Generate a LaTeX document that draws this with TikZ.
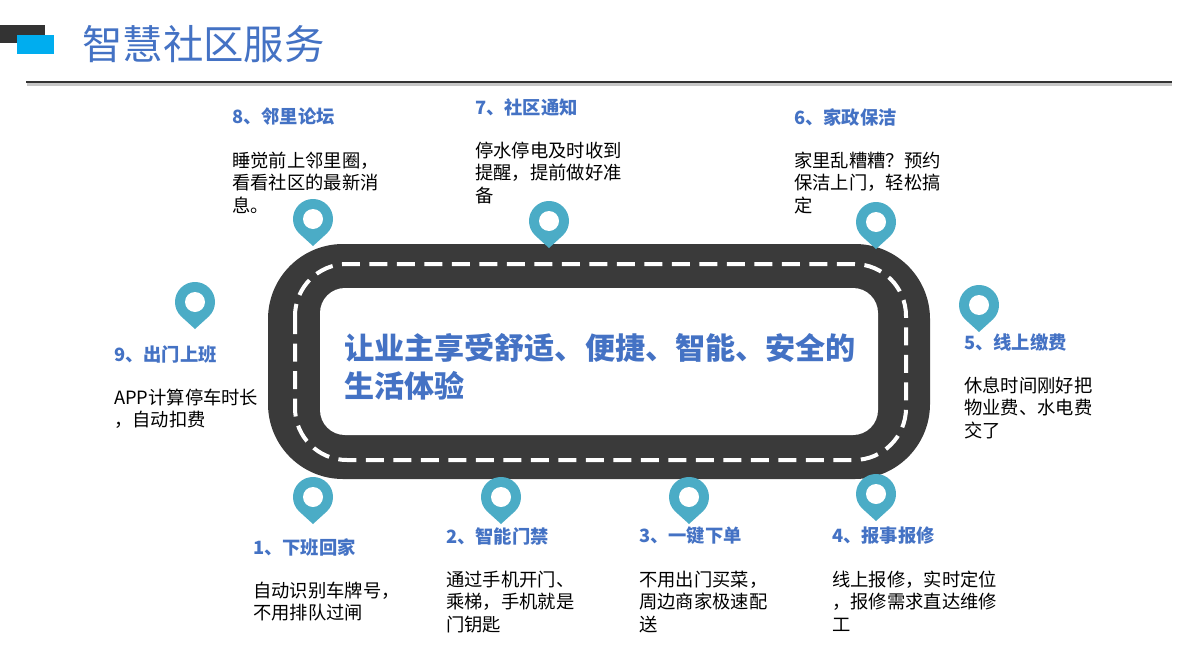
\documentclass[tikz,border=0pt]{standalone}
\usepackage{fontspec}
\setmainfont{Noto Sans CJK SC}
\usetikzlibrary{calc}
\definecolor{road}{HTML}{3A3A3A}
\definecolor{pinc}{HTML}{4BACC6}
\definecolor{bluet}{HTML}{4472C4}
\definecolor{barblue}{HTML}{00ADEF}
\definecolor{bardark}{HTML}{333333}
\tikzset{
  px/.style={x=1pt,y=-1pt},
  head/.style={anchor=west,inner sep=0pt,text=bluet,font=\fontsize{18.3}{22}\selectfont\bfseries},
  body/.style={anchor=north west,inner sep=0pt,align=left,text=black,font=\fontsize{18.3}{22.5}\selectfont},
  pinshape/.style={fill=pinc,draw=none},
  pinhole/.style={fill=white,draw=none}
}
\newcommand{\mypin}[3]{% name, x, y of circle centre
  \coordinate (#1) at (#2,#3);
  \fill[pinshape] ($(#1)+(-14.14,14.14)$) arc[start angle=135,end angle=405,radius=20] -- ($(#1)+(0,27)$) -- cycle;
  \fill[pinhole] (#1) circle[radius=10];
}
\begin{document}
\begin{tikzpicture}[px]
\useasboundingbox (0,0) rectangle (1177,645);
% header
\fill[bardark] (0,25) rectangle (45,43);
\fill[barblue] (17,35) rectangle (54,54);
\node[anchor=west,inner sep=0pt,text=bluet,font=\fontsize{40.4}{44}\selectfont] (title) at (82,44) {智慧社区服务};
\fill[black!22] (27,83) rectangle (1172,86);
\coordinate (ruleL) at (26,82);
\coordinate (ruleR) at (1172,82);
\draw[bardark,line width=2pt] (ruleL) -- (ruleR);
% road
\fill[road,rounded corners=75pt] (268,244) rectangle (930,479);
\fill[white,rounded corners=25pt] (320,288) rectangle (878,435);
\draw[white,line width=4pt,dash pattern=on 18pt off 9.5pt,rounded corners=52pt] (295,264) rectangle (906,460);
\node[anchor=north west,inner sep=0pt,align=left,text=bluet,font=\fontsize{30.1}{37.5}\selectfont\bfseries] (center) at (344,333.5) {让业主享受舒适、便捷、智能、安全的\\生活体验};
% pins
\mypin{p8}{313}{219}
\mypin{p7}{549}{221}
\mypin{p6}{876}{222}
\mypin{p5}{979}{305}
\mypin{p9}{195}{302}
\mypin{p1}{313}{497}
\mypin{p2}{501}{497}
\mypin{p3}{689}{497}
\mypin{p4}{876}{494}
% labels
\node[head] (h8) at (232,117) {8、邻里论坛};
\node[body] (b8) at (232,151.5) {睡觉前上邻里圈，\\看看社区的最新消\\息。};
\node[head] (h7) at (475,107) {7、社区通知};
\node[body] (b7) at (475,141.5) {停水停电及时收到\\提醒，提前做好准\\备};
\node[head] (h6) at (794,117) {6、家政保洁};
\node[body] (b6) at (794,151.5) {家里乱糟糟？预约\\保洁上门，轻松搞\\定};
\node[head] (h5) at (964,343) {5、线上缴费};
\node[body] (b5) at (964,376.5) {休息时间刚好把\\物业费、水电费\\交了};
\node[head] (h9) at (114,354) {9、出门上班};
\node[body] (b9) at (114,388.5) {APP计算停车时长\\，自动扣费};
\node[head] (h1) at (253,547) {1、下班回家};
\node[body] (b1) at (253,581.5) {自动识别车牌号，\\不用排队过闸};
\node[head] (h2) at (446,536) {2、智能门禁};
\node[body] (b2) at (446,570.5) {通过手机开门、\\乘梯，手机就是\\门钥匙};
\node[head] (h3) at (639,536) {3、一键下单};
\node[body] (b3) at (639,570.5) {不用出门买菜，\\周边商家极速配\\送};
\node[head] (h4) at (832,536) {4、报事报修};
\node[body] (b4) at (832,570.5) {线上报修，实时定位\\，报修需求直达维修\\工};
\end{tikzpicture}
\end{document}
